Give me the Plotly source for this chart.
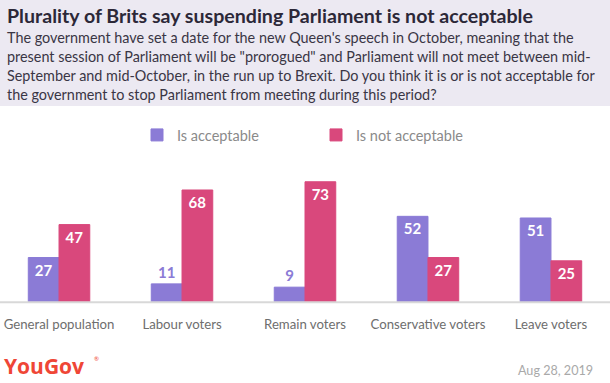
import plotly.graph_objects as go

categories = ["General population", "Labour voters", "Remain voters", "Conservative voters", "Leave voters"]
acceptable = [27, 11, 9, 52, 51]
not_acceptable = [47, 68, 73, 27, 25]
series_names = ["Is acceptable", "Is not acceptable"]

title = "Plurality of Brits say suspending Parliament is not acceptable"
subtitle_lines = [
    "The government have set a date for the new Queen's speech in October, meaning that the",
    "present session of Parliament will be \"prorogued\" and Parliament will not meet between mid-",
    "September and mid-October, in the run up to Brexit. Do you think it is or is not acceptable for",
    "the government to stop Parliament from meeting during this period?",
]
date_text = "Aug 28, 2019"

PURPLE = "#8b7bd6"
PINK = "#d9487c"
FONT = "Lato, 'Open Sans', sans-serif"

W, H = 610, 383
top_px, base_px = 150, 301.7
plot_h = base_px - top_px
ymax = plot_h / 1.644


def ypaper(px):
    return (base_px - px) / plot_h


def ycont(px):
    return 1 - px / H


def label_pos(vals, thresh=15):
    return ["outside" if v < thresh else "inside" for v in vals]


fig = go.Figure()
for name, vals, col in [(series_names[0], acceptable, PURPLE), (series_names[1], not_acceptable, PINK)]:
    fig.add_trace(go.Bar(
        name=name, x=categories, y=vals,
        marker=dict(color=col, line=dict(color=col, width=1)),
        text=[str(v) for v in vals],
        textposition=label_pos(vals),
        insidetextanchor="end",
        textfont=dict(family=FONT, size=15, weight="bold"),
        outsidetextfont=dict(family=FONT, size=15, color=col, weight="bold"),
        insidetextfont=dict(family=FONT, size=15, color="white", weight="bold"),
        cliponaxis=False,
        hoverinfo="skip",
    ))

shapes = [
    dict(type="rect", xref="paper", yref="paper", x0=-0.05, x1=1.05,
         y0=ypaper(106), y1=ypaper(-10), fillcolor="#ece9f2", line=dict(width=0), layer="below"),
    dict(type="line", xref="paper", yref="paper", x0=0, x1=1,
         y0=ypaper(302), y1=ypaper(302), line=dict(color="#d8d8d8", width=2)),
]

annotations = [
    dict(text="<b>" + title + "</b>", x=0.008, y=ypaper(16), xref="paper", yref="paper",
         xanchor="left", yanchor="middle", showarrow=False,
         font=dict(family=FONT, size=19.6, color="#2c2838")),
]
for i, line in enumerate(subtitle_lines):
    annotations.append(dict(text=line, x=0.008, y=ypaper(38 + 19 * i), xref="paper", yref="paper",
                            xanchor="left", yanchor="middle", showarrow=False,
                            font=dict(family=FONT, size=14.4, color="#3a3645")))
annotations.append(dict(text="<b>YouGov</b>", x=0.004, y=ypaper(366), xref="paper", yref="paper",
                        xanchor="left", yanchor="middle", showarrow=False,
                        font=dict(family="'Open Sans', sans-serif", size=21, color="#ef4636")))
annotations.append(dict(text="®", x=0.151, y=ypaper(358), xref="paper", yref="paper",
                        xanchor="left", yanchor="middle", showarrow=False,
                        font=dict(family=FONT, size=6, color="#ef4636")))
annotations.append(dict(text=date_text, x=0.975, y=ypaper(370), xref="paper", yref="paper",
                        xanchor="right", yanchor="middle", showarrow=False,
                        font=dict(family=FONT, size=12.6, color="#a9a9a9")))

fig.update_layout(
    width=W, height=H,
    margin=dict(l=0, r=0, t=top_px, b=H - base_px, pad=0, autoexpand=False),
    paper_bgcolor="white", plot_bgcolor="white",
    barmode="group", bargap=0.5, bargroupgap=0,
    showlegend=True,
    legend=dict(orientation="h", x=(181 - 44) / W, xanchor="left", xref="container",
                y=ycont(135), yanchor="middle", yref="container",
                font=dict(family=FONT, size=14.5, color="#8a8a8a"), itemwidth=30,
                traceorder="normal", bgcolor="rgba(0,0,0,0)", entrywidth=134),
    xaxis=dict(range=[-0.48, 4.48], showgrid=False, zeroline=False, showline=False,
               ticks="outside", ticklen=10, tickcolor="rgba(0,0,0,0)",
               tickfont=dict(family=FONT, size=13.2, color="#6e6e6e"), fixedrange=True),
    yaxis=dict(range=[0, ymax], visible=False, fixedrange=True),
    shapes=shapes,
    annotations=annotations,
    font=dict(family=FONT),
)

fig.write_html("out.html", config={"displayModeBar": False},
               post_script="document.body.style.margin='0';document.body.style.overflow='hidden';")
